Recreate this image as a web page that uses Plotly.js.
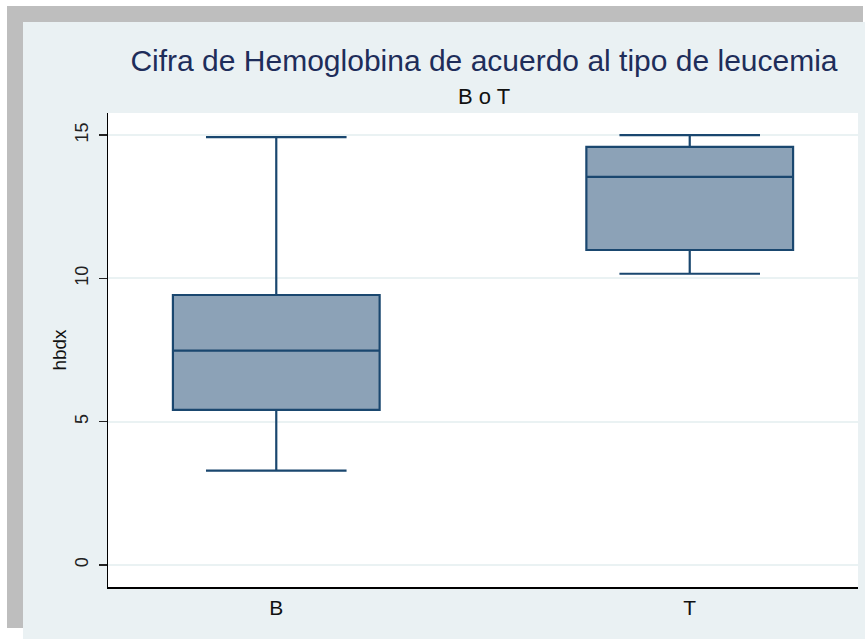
<!DOCTYPE html>
<html>
<head>
<meta charset="utf-8">
<script src="https://cdn.plot.ly/plotly-3.0.1.min.js"></script>
<style>html,body{margin:0;padding:0;background:#fff;}#chart{width:865px;height:639px;}</style>
</head>
<body>
<div id="chart"></div>
<script>
// Data
const categories = ['B', 'T'];
const lowerWhisker = [3.29, 10.16];
const q1Values = [5.41, 10.99];
const medianValues = [7.48, 13.54];
const q3Values = [9.42, 14.59];
const upperWhisker = [14.93, 15.0];
const yTickValues = [0, 5, 10, 15];
const yTickLabels = ['0', '5', '10', '15'];

const titleText = 'Cifra de Hemoglobina de acuerdo al tipo de leucemia';
const subtitleText = 'B o T';
const yTitle = 'hbdx';

const W = 865, H = 639;
const L = 108, R = 858, T = 113, B = 587;
const pw = R - L, ph = B - T;
const px = v => (v - L) / pw;
const py = v => (B - v) / ph;

const trace = {
  type: 'box',
  x: categories,
  q1: q1Values,
  median: medianValues,
  q3: q3Values,
  lowerfence: lowerWhisker,
  upperfence: upperWhisker,
  width: 0.5,
  whiskerwidth: 0.68,
  fillcolor: '#8CA2B7',
  line: {color: '#1A476F', width: 2.2},
  boxpoints: false,
  showlegend: false,
  hoverinfo: 'none'
};

const layout = {
  width: W, height: H,
  margin: {l: L, r: W - R, t: T, b: H - B, pad: 0},
  paper_bgcolor: '#ffffff',
  plot_bgcolor: '#ffffff',
  font: {family: 'Liberation Sans, Arial, sans-serif', color: '#222'},
  title: {
    text: titleText,
    font: {size: 30, color: '#1E2D5A', family: 'Liberation Sans, Arial, sans-serif'},
    x: 484 / W, xanchor: 'center', xref: 'container',
    y: 1 - 60 / H, yanchor: 'middle', yref: 'container'
  },
  annotations: [{
    text: subtitleText, xref: 'paper', yref: 'paper',
    x: px(484), y: py(96), xanchor: 'center', yanchor: 'middle',
    showarrow: false, font: {size: 22, color: '#111'}
  }],
  xaxis: {
    type: 'category',
    range: [-0.407, 1.407],
    showgrid: false, zeroline: false,
    showline: true, linecolor: '#000', linewidth: 1.5,
    ticks: '',
    ticklabelstandoff: 1,
    tickfont: {size: 21, color: '#111'},
    fixedrange: true
  },
  yaxis: {
    range: [-0.77, 15.77],
    tickvals: yTickValues, ticktext: yTickLabels,
    tickangle: -90,
    ticks: 'outside', ticklen: 8, tickwidth: 1.5, tickcolor: '#222',
    ticklabelstandoff: 3,
    tickfont: {size: 18, color: '#222'},
    showgrid: true, gridcolor: '#EAF2F3', gridwidth: 2,
    zeroline: false,
    showline: true, linecolor: '#000', linewidth: 1.5,
    title: {text: yTitle, font: {size: 19, color: '#111'}, standoff: 0},
    fixedrange: true
  },
  shapes: [
    {type: 'rect', xref: 'paper', yref: 'paper', layer: 'below',
     x0: px(7), x1: px(863), y0: py(22), y1: py(6), fillcolor: '#BEBEBE', line: {width: 0}},
    {type: 'rect', xref: 'paper', yref: 'paper', layer: 'below',
     x0: px(7), x1: px(23), y0: py(628), y1: py(6), fillcolor: '#BEBEBE', line: {width: 0}},
    {type: 'rect', xref: 'paper', yref: 'paper', layer: 'below',
     x0: px(23), x1: px(866), y0: py(640), y1: py(22), fillcolor: '#EAF1F3', line: {width: 0}},
    {type: 'rect', xref: 'paper', yref: 'paper', layer: 'below',
     x0: 0, x1: 1, y0: 0, y1: 1, fillcolor: '#ffffff', line: {width: 0}}
  ]
};

Plotly.newPlot('chart', [trace], layout, {displayModeBar: false, staticPlot: true});
</script>
</body>
</html>
